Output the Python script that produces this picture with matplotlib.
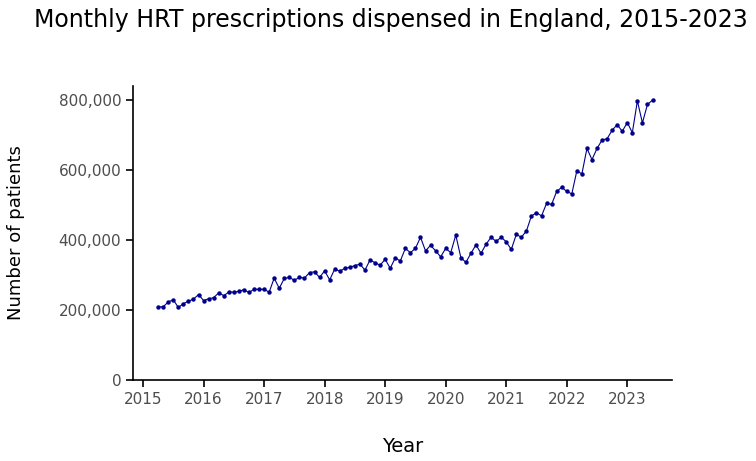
import numpy as np
import matplotlib
matplotlib.use("Agg")
import matplotlib.pyplot as plt
from matplotlib.ticker import FuncFormatter

# monthly counts, April 2015 .. June 2023
start_year = 2015
start_month = 4
patients = [
    209, 209, 223, 229, 207, 218, 225, 231, 244, 227, 232, 235,
    249, 241, 251, 251, 253, 258, 250, 259, 259, 259, 251, 291,
    262, 290, 293, 285, 293, 291, 307, 309, 293, 312, 286, 317,
    311, 319, 322, 327, 331, 314, 343, 335, 328, 345, 319, 349,
    340, 376, 364, 376, 408, 369, 385, 369, 352, 376, 364, 414,
    350, 336, 362, 386, 362, 388, 408, 396, 408, 395, 373, 416,
    408, 426, 469, 478, 469, 505, 502, 539, 551, 539, 532, 598,
    589, 662, 630, 662, 686, 690, 714, 730, 711, 736, 707, 798,
    735, 788, 800,
]
patients = np.array(patients) * 1000
months = np.arange(len(patients))
years = start_year + (start_month - 1 + months) / 12.0

year_ticks = list(range(2015, 2024))
y_ticks = [0, 200000, 400000, 600000, 800000]

fig = plt.figure(figsize=(7.56, 4.61), dpi=100)
ax = fig.add_axes([0.176, 0.176, 0.713, 0.637])

ax.plot(years, patients, color="#00008B", linewidth=0.8,
        marker="o", markersize=3.2, markeredgewidth=0)

ax.set_xlim(2014.835, 2023.74)
ax.set_ylim(0, 840000)
ax.set_xticks(year_ticks)
ax.set_yticks(y_ticks)
ax.yaxis.set_major_formatter(FuncFormatter(lambda v, p: f"{int(v):,}"))

for side in ("top", "right"):
    ax.spines[side].set_visible(False)
for side in ("left", "bottom"):
    ax.spines[side].set_linewidth(1.2)
    ax.spines[side].set_color("black")

ax.tick_params(axis="both", direction="out", length=5, width=1.2,
               color="black", labelcolor="#4d4d4d", labelsize=11)

ax.set_xlabel("Year", fontsize=14, labelpad=22)
ax.set_ylabel("Number of patients", fontsize=13, labelpad=24)

fig.text(0.517, 0.957, "Monthly HRT prescriptions dispensed in England, 2015-2023",
         ha="center", va="center", fontsize=17)

fig.savefig("out.png", dpi=100)
